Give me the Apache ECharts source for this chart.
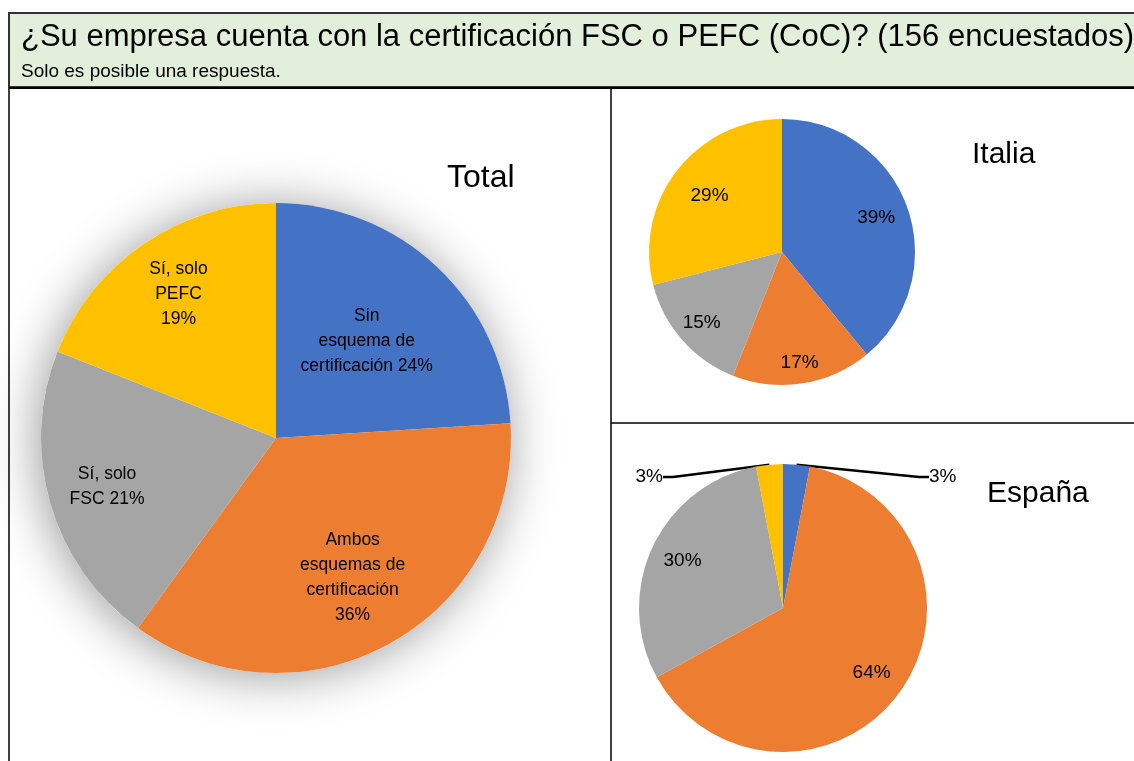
<!DOCTYPE html>
<html>
<head>
<meta charset="utf-8">
<script src="https://cdn.jsdelivr.net/npm/echarts@6/dist/echarts.min.js"></script>
<style>
  html, body { margin: 0; padding: 0; background: #fff; }
  #chart { width: 1134px; height: 761px; }
</style>
</head>
<body>
<div id="chart"></div>
<script>
// categorías y valores (%)
const categories = ['Sin esquema de certificación', 'Ambos esquemas de certificación', 'Sí, solo FSC', 'Sí, solo PEFC'];
const totalValues = [24, 36, 21, 19];
const italiaValues = [39, 17, 15, 29];
const espanaValues = [3, 64, 30, 3];
const colors = ['#4472C4', '#ED7D31', '#A5A5A5', '#FFC000'];

// textos de etiqueta del gráfico total
const totalLabelFormats = ['Sin\nesquema de\ncertificación {c}%', 'Ambos\nesquemas de\ncertificación\n{c}%', 'Sí, solo\nFSC {c}%', 'Sí, solo\nPEFC\n{c}%'];

// distancia de la etiqueta al centro (fracción del radio)
const totalLabelDist = [0.55, 0.66, 0.73, 0.72];
const italiaLabelDist = [0.72, 0.81, 0.77, 0.66];
const espanaLabelDist = [0, 0.73, 0.74, 0];

const chart = echarts.init(document.getElementById('chart'));

// mueve las etiquetas internas a lo largo del radio
function insideLayout(cx, cy, dist) {
  return function (params) {
    const k = dist[params.dataIndex] / 0.5;
    if (!k) return {};
    const r = params.labelRect;
    const lx = r.x + r.width / 2, ly = r.y + r.height / 2;
    return { x: cx + (lx - cx) * k, y: cy + (ly - cy) * k, align: 'center', verticalAlign: 'middle' };
  };
}

const font = "'Liberation Sans', Arial, sans-serif";

let option = {
  animation: false,
  color: colors,
  title: [
    { text: '¿Su empresa cuenta con la certificación FSC o PEFC (CoC)? (156 encuestados)', left: 21, top: 22, padding: 0,
      textStyle: { fontSize: 31, fontWeight: 'normal', color: '#000', fontFamily: font } },
    { text: 'Solo es posible una respuesta.', left: 21, top: 62, padding: 0,
      textStyle: { fontSize: 19, fontWeight: 'normal', color: '#000', fontFamily: font } },
    { text: 'Total', left: 447, top: 162, padding: 0, textStyle: { fontSize: 32, fontWeight: 'normal', color: '#000', fontFamily: font } },
    { text: 'Italia', left: 972, top: 140, padding: 0, textStyle: { fontSize: 30, fontWeight: 'normal', color: '#000', fontFamily: font } },
    { text: 'España', left: 987, top: 479, padding: 0, textStyle: { fontSize: 30, fontWeight: 'normal', color: '#000', fontFamily: font } }
  ],
  graphic: [
    // cabecera verde
    { type: 'rect', z: -10, shape: { x: 9, y: 13, width: 1140, height: 74 },
      style: { fill: '#E2EFDA', stroke: '#333', lineWidth: 2 } },
    // marcos de la tabla
    { type: 'line', z: -5, shape: { x1: 9, y1: 88, x2: 1134, y2: 88 }, style: { stroke: '#000', lineWidth: 2 } },
    { type: 'line', z: -5, shape: { x1: 9, y1: 88, x2: 9, y2: 761 }, style: { stroke: '#000', lineWidth: 1.5 } },
    { type: 'line', z: -5, shape: { x1: 611, y1: 88, x2: 611, y2: 761 }, style: { stroke: '#000', lineWidth: 1.5 } },
    { type: 'line', z: -5, shape: { x1: 611, y1: 423, x2: 1134, y2: 423 }, style: { stroke: '#000', lineWidth: 1.5 } }
  ],
  series: [
    {
      // sombra detrás del gráfico total
      type: 'pie', silent: true, center: [276, 438], radius: 235, z: 1,
      label: { show: false }, labelLine: { show: false },
      itemStyle: { color: '#fff', shadowBlur: 50, shadowOffsetX: -3, shadowOffsetY: 3, shadowColor: 'rgba(0,0,0,0.4)' },
      data: [{ name: 'sombra', value: totalValues.reduce((a, b) => a + b, 0) }]
    },
    {
      name: 'Total', type: 'pie', center: [276, 438], radius: 235, startAngle: 90, clockwise: true, z: 2,
      label: { position: 'inside', color: '#000', fontSize: 17.5, lineHeight: 25, fontFamily: font },
      labelLayout: insideLayout(276, 438, totalLabelDist),
      data: categories.map((n, i) => ({ name: n, value: totalValues[i], label: { formatter: totalLabelFormats[i] } }))
    },
    {
      name: 'Italia', type: 'pie', center: [782, 252], radius: 133, startAngle: 90, clockwise: true,
      label: { position: 'inside', color: '#000', fontSize: 19, fontFamily: font, formatter: '{c}%' },
      labelLayout: insideLayout(782, 252, italiaLabelDist),
      data: categories.map((n, i) => ({ name: n, value: italiaValues[i] }))
    },
    {
      name: 'España', type: 'pie', center: [783, 608], radius: 144, startAngle: 90, clockwise: true,
      label: { position: 'inside', color: '#000', fontSize: 19, fontFamily: font, formatter: '{c}%' },
      labelLine: { lineStyle: { color: '#000', width: 2.5 } },
      labelLayout: function (params) {
        if (params.dataIndex === 0) return { x: 929, y: 477, align: 'left', verticalAlign: 'middle' };
        if (params.dataIndex === 3) return { x: 663, y: 477, align: 'right', verticalAlign: 'middle' };
        return insideLayout(783, 608, espanaLabelDist)(params);
      },
      data: categories.map((n, i) => {
        const outside = espanaValues[i] < 5;
        return {
          name: n, value: espanaValues[i],
          label: outside ? { position: 'outside' } : {},
          labelLine: { show: outside, length: 10, length2: 10 }
        };
      })
    }
  ]
};
chart.setOption(option);
</script>
</body>
</html>
